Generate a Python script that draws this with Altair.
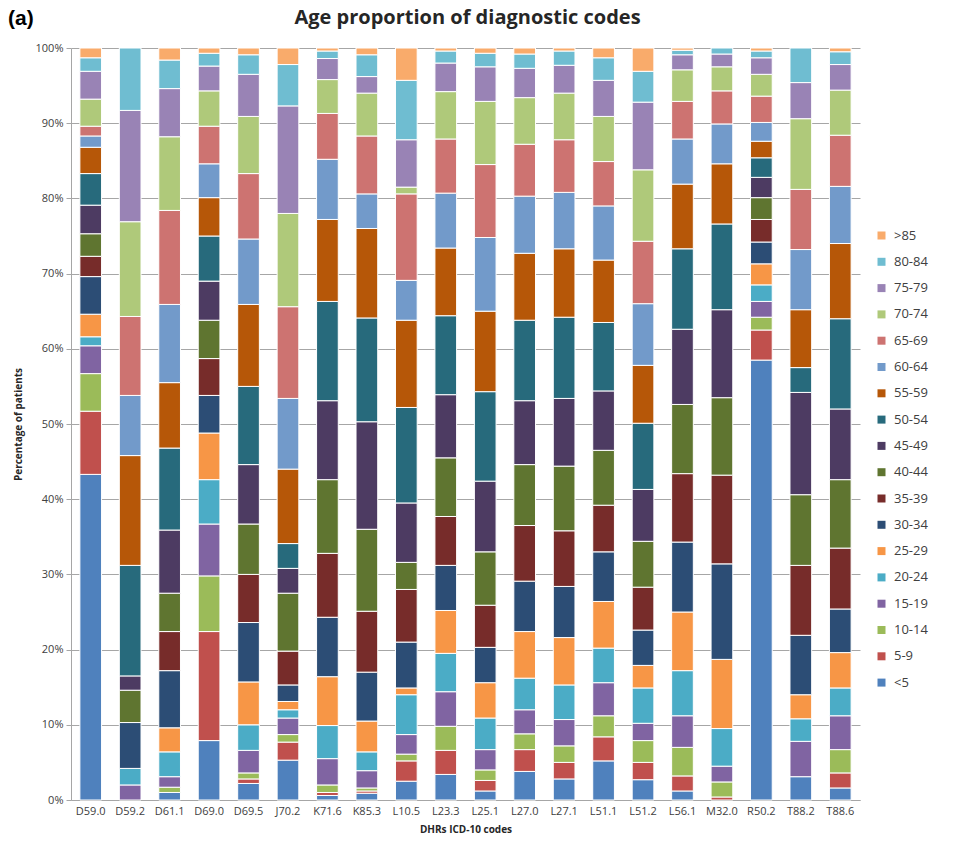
import altair as alt
import pandas as pd

# Diagnostic codes along the x axis
codes = ["D59.0", "D59.2", "D61.1", "D69.0", "D69.5", "J70.2", "K71.6", "K85.3",
         "L10.5", "L23.3", "L25.1", "L27.0", "L27.1", "L51.1", "L51.2", "L56.1",
         "M32.0", "R50.2", "T88.2", "T88.6"]

# Age bands, youngest first (stacked from the bottom)
age_groups = ["<5", "5-9", "10-14", "15-19", "20-24", "25-29", "30-34", "35-39",
              "40-44", "45-49", "50-54", "55-59", "60-64", "65-69", "70-74",
              "75-79", "80-84", ">85"]

age_colors = ["#4F81BD", "#C0504D", "#9BBB59", "#8064A2", "#4BACC6", "#F79646",
              "#2C4D75", "#772C2A", "#5F7530", "#4D3B62", "#276A7C", "#B65708",
              "#729ACA", "#CD7371", "#AFC97A", "#9983B5", "#6FBDD1", "#F9AB6B"]

# Percentage of patients in each age band, one list per code (<5 ... >85)
d59_0 = [43.3, 8.4, 5.0, 3.7, 1.2, 3.0, 5.0, 2.7, 3.0, 3.8, 4.2, 3.5, 1.5, 1.3, 3.6, 3.7, 1.8, 1.3]
d59_2 = [0.0, 0.0, 0.0, 2.0, 2.2, 0.0, 6.1, 0.0, 4.3, 1.9, 14.7, 14.6, 8.0, 10.5, 12.6, 14.8, 8.3, 0.0]
d61_1 = [1.0, 0.0, 0.7, 1.4, 3.3, 3.2, 7.6, 5.2, 5.1, 8.4, 10.9, 8.7, 10.4, 12.5, 9.8, 6.4, 3.8, 1.6]
d69_0 = [7.9, 14.5, 7.4, 6.9, 5.9, 6.2, 5.0, 4.9, 5.1, 5.2, 6.0, 5.1, 4.5, 5.0, 4.7, 3.3, 1.7, 0.7]
d69_5 = [2.2, 0.6, 0.8, 3.0, 3.4, 5.7, 7.9, 6.4, 6.7, 7.9, 10.4, 10.9, 8.7, 8.7, 7.6, 5.6, 2.6, 0.9]
j70_2 = [5.3, 2.4, 1.0, 2.2, 1.1, 1.1, 2.2, 4.5, 7.7, 3.3, 3.3, 9.9, 9.4, 12.2, 12.4, 14.3, 5.5, 2.2]
k71_6 = [0.6, 0.4, 1.0, 3.5, 4.4, 6.5, 7.9, 8.5, 9.8, 10.5, 13.2, 10.9, 8.0, 6.1, 4.5, 2.8, 1.0, 0.4]
k85_3 = [0.9, 0.3, 0.4, 2.3, 2.5, 4.1, 6.5, 8.1, 10.9, 14.3, 13.8, 11.9, 4.6, 7.7, 5.7, 2.2, 2.9, 0.9]
l10_5 = [2.5, 2.7, 0.9, 2.6, 5.3, 0.9, 6.1, 7.0, 3.6, 7.9, 12.7, 11.6, 5.3, 11.5, 0.9, 6.3, 7.9, 4.3]
l23_3 = [3.4, 3.2, 3.2, 4.6, 5.1, 5.7, 6.0, 6.5, 7.8, 8.4, 10.5, 9.0, 7.3, 7.2, 6.3, 3.8, 1.6, 0.4]
l25_1 = [1.2, 1.4, 1.4, 2.7, 4.2, 4.7, 4.7, 5.6, 7.1, 9.4, 11.9, 10.7, 9.8, 9.7, 8.4, 4.6, 1.8, 0.7]
l27_0 = [3.8, 2.9, 2.1, 3.2, 4.2, 6.2, 6.7, 7.4, 8.1, 8.5, 10.7, 8.9, 7.6, 6.9, 6.2, 3.9, 1.9, 0.8]
l27_1 = [2.8, 2.2, 2.2, 3.5, 4.6, 6.3, 6.8, 7.4, 8.6, 9.0, 10.8, 9.1, 7.5, 7.0, 6.2, 3.7, 1.9, 0.4]
l51_1 = [5.2, 3.2, 2.8, 4.4, 4.6, 6.2, 6.6, 6.2, 7.3, 7.9, 9.1, 8.3, 7.2, 5.9, 6.0, 4.8, 3.0, 1.3]
l51_2 = [2.7, 2.3, 2.9, 2.3, 4.7, 3.0, 4.7, 5.7, 6.1, 6.9, 8.8, 7.7, 8.2, 8.3, 9.5, 9.0, 4.1, 3.1]
l56_1 = [1.2, 2.0, 3.8, 4.2, 6.0, 7.8, 9.3, 9.1, 9.2, 10.0, 10.7, 8.6, 6.0, 5.0, 4.2, 2.0, 0.6, 0.3]
m32_0 = [0.0, 0.4, 2.0, 2.1, 5.0, 9.2, 12.7, 11.8, 10.3, 11.7, 11.4, 8.0, 5.3, 4.4, 3.2, 1.7, 0.8, 0.0]
r50_2 = [58.5, 4.0, 1.7, 2.1, 2.2, 2.8, 2.9, 3.0, 2.9, 2.7, 2.6, 2.2, 2.5, 3.5, 2.9, 2.2, 0.9, 0.4]
t88_2 = [3.1, 0.0, 0.0, 4.7, 3.0, 3.2, 7.9, 9.3, 9.4, 13.6, 3.3, 7.7, 8.0, 8.0, 9.4, 4.8, 4.6, 0.0]
t88_6 = [1.6, 2.0, 3.1, 4.5, 3.7, 4.7, 5.8, 8.1, 9.1, 9.4, 12.0, 10.0, 7.6, 6.8, 6.0, 3.4, 1.7, 0.5]

shares = [d59_0, d59_2, d61_1, d69_0, d69_5, j70_2, k71_6, k85_3, l10_5, l23_3,
          l25_1, l27_0, l27_1, l51_1, l51_2, l56_1, m32_0, r50_2, t88_2, t88_6]

rows = []
for code, vals in zip(codes, shares):
    for rank, (grp, val) in enumerate(zip(age_groups, vals)):
        if val > 0:
            rows.append({"code": code, "age": grp, "share": val, "rank": rank})
df = pd.DataFrame(rows)

# Legend lists the oldest band first
legend_order = age_groups[::-1]
legend_colors = age_colors[::-1]

FONT = "Open Sans"
PLOT_W, PLOT_H = 789, 752

bars = alt.Chart(df).mark_bar(stroke="white", strokeWidth=1).encode(
    x=alt.X("code:N", sort=codes,
            scale=alt.Scale(paddingInner=0.45, paddingOuter=0.225),
            axis=alt.Axis(title="DHRs ICD-10 codes", labelAngle=0, ticks=False,
                          labelFontSize=11, labelColor="#404040", labelPadding=5,
                          titleFontSize=10, titleFontWeight="bold", titleColor="#262626",
                          titlePadding=8, domainColor="#a6a6a6", grid=False)),
    y=alt.Y("share:Q", stack="normalize",
            scale=alt.Scale(domain=[0, 1], nice=False),
            axis=alt.Axis(title="Percentage of patients", format=".0%",
                          values=[i / 10 for i in range(11)],
                          labelFontSize=11, labelColor="#404040", labelPadding=3,
                          tickSize=5, tickColor="#a6a6a6", domainColor="#a6a6a6",
                          gridColor="#a6a6a6", gridWidth=1,
                          titleFontSize=10, titleFontWeight="bold", titleColor="#262626",
                          titlePadding=12)),
    color=alt.Color("age:N",
                    scale=alt.Scale(domain=legend_order, range=legend_colors),
                    legend=alt.Legend(title=None, orient="none", legendX=804, legendY=181,
                                      symbolType="square", symbolSize=64,
                                      symbolStrokeWidth=0, labelFontSize=13,
                                      labelColor="#404040", rowPadding=12.3,
                                      labelOffset=6)),
    order=alt.Order("rank:Q", sort="ascending"),
)

# Chart heading and panel tag above the plot area
heading = alt.Chart(pd.DataFrame({"t": ["Age proportion of diagnostic codes"]})).mark_text(
    font="Open Sans", fontSize=20, fontWeight="bold", color="#262626",
    align="center", baseline="middle",
).encode(text="t:N", x=alt.value(PLOT_W / 2 + 2), y=alt.value(-30))

panel_tag = alt.Chart(pd.DataFrame({"tag": ["(a)"]})).mark_text(
    font="Liberation Sans", fontSize=21, fontWeight="bold", color="black",
    align="left", baseline="middle",
).encode(text="tag:N", x=alt.value(-63), y=alt.value(-29))

chart = alt.layer(bars, heading, panel_tag).properties(
    width=PLOT_W, height=PLOT_H,
    autosize=alt.AutoSizeParams(type="none"),
    padding={"left": 71, "top": 48, "right": 107, "bottom": 47},
).configure(font=FONT).configure_view(stroke=None)

chart.save("out.html", embed_options={"renderer": "svg", "actions": False})
